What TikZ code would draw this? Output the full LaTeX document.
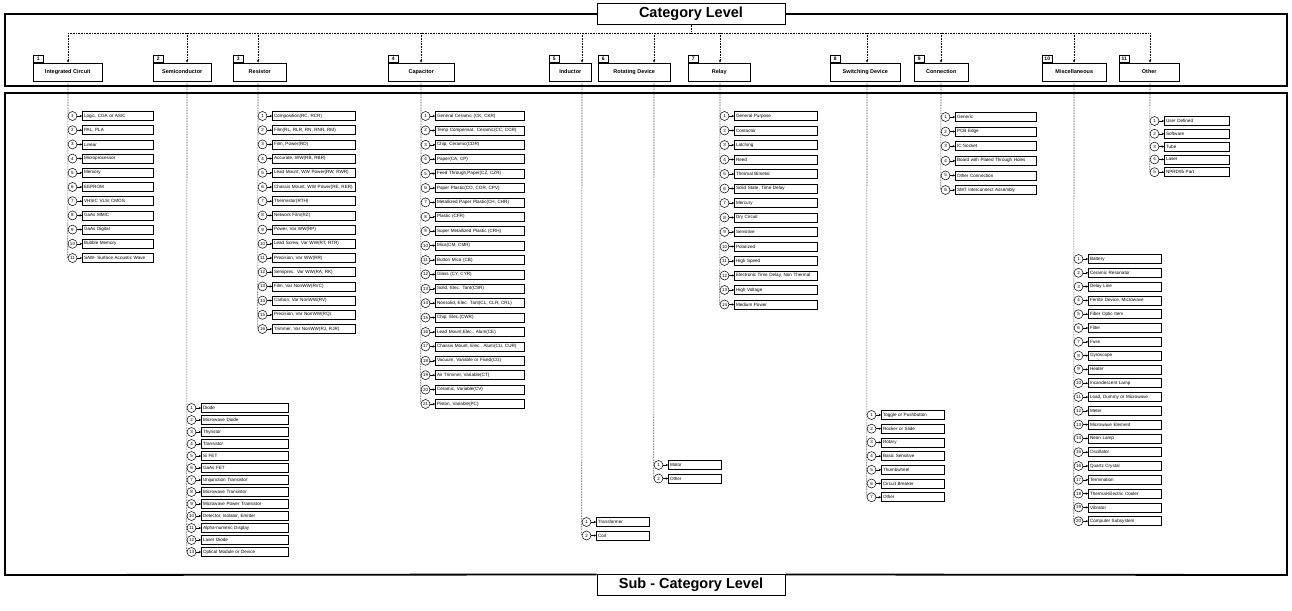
\documentclass[tikz,border=0pt]{standalone}
\usepackage{fontspec}
\setmainfont{Liberation Sans}
\usetikzlibrary{positioning,arrows.meta}

\tikzset{
  frame/.style={line width=1.8pt},
  lvlbox/.style={draw, line width=0.8pt, fill=white, minimum width=188pt, minimum height=19pt, font=\bfseries\fontsize{14.5}{16}\selectfont},
  catbox/.style={draw, line width=0.5pt, minimum height=18pt, inner sep=1pt, anchor=west, font=\bfseries\fontsize{5.5}{6}\selectfont},
  numtab/.style={draw, line width=0.5pt, minimum width=10pt, minimum height=7pt, inner sep=0.5pt, anchor=south west, font=\bfseries\fontsize{5}{5}\selectfont},
  bus/.style={densely dotted, line width=0.6pt},
  busarrow/.style={bus, -{Stealth[length=3pt,width=2.5pt]}},
  numcirc/.style={draw, circle, line width=0.5pt, minimum size=9pt, inner sep=0pt, font=\fontsize{4.5}{5}\selectfont},
  subbox/.style={draw, line width=0.5pt, minimum height=9pt, inner xsep=1.5pt, inner ysep=0.5pt, align=left, font=\fontsize{4.6}{5}\selectfont},
  itemarrow/.style={line width=0.5pt, -{Stealth[length=2.5pt,width=2.2pt]}},
}

% #1 name, #2 line x, #3 first y, #4 step, #5 box width, #6 items
\newcommand{\sublist}[6]{%
  \foreach \txt [count=\i] in {#6} {
    \node[numcirc] (#1n\i) at ({#2+4.5}, {#3+(\i-1)*#4}) {\i};
    \node[subbox, text width=#5pt, right=5pt of #1n\i] (#1b\i) {\txt};
    \draw[itemarrow] (#1n\i) -- (#1b\i);
  }%
}

\begin{document}
\begin{tikzpicture}[x=1pt, y=-1pt]
\useasboundingbox (0,0) rectangle (1292,610);

% level boxes and frames
\node[lvlbox] (catlvl) at (691,14) {Category Level};
\node[lvlbox] (sublvl) at (691,585) {Sub - Category Level};
\draw[frame] (catlvl.west) -- (5,14) -- (5,86) -- (1287,86) -- (1287,14) -- (catlvl.east);
\draw[frame] (sublvl.north west) -- (5,575) -- (5,93) -- (1287,93) -- (1287,575) -- (sublvl.north east);

% categories
\node[catbox, minimum width=69pt] (ic) at (33,72) {Integrated Circuit};
\node[catbox, minimum width=58pt] (semi) at (153,72) {Semiconductor};
\node[catbox, minimum width=53pt] (res) at (233,72) {Resistor};
\node[catbox, minimum width=66pt] (cap) at (388,72) {Capacitor};
\node[catbox, minimum width=42pt] (ind) at (549,72) {Inductor};
\node[catbox, minimum width=72pt] (rot) at (598,72) {Rotating Device};
\node[catbox, minimum width=62pt] (rly) at (688,72) {Relay};
\node[catbox, minimum width=70pt] (swi) at (830,72) {Switching Device};
\node[catbox, minimum width=54pt] (con) at (914,72) {Connection};
\node[catbox, minimum width=64pt] (misc) at (1042,72) {Miscellaneous};
\node[catbox, minimum width=60pt] (oth) at (1119,72) {Other};

\foreach \c/\n in {ic/1, semi/2, res/3, cap/4, ind/5, rot/6, rly/7, swi/8, con/9, misc/10, oth/11}
  \node[numtab] (\c tab) at (\c.north west) {\n};

\coordinate (xic) at (68,33);
\coordinate (xsemi) at (187,33);
\coordinate (xres) at (258,33);
\coordinate (xcap) at (421,33);
\coordinate (xind) at (582,33);
\coordinate (xrot) at (654,33);
\coordinate (xrly) at (720,33);
\coordinate (xswi) at (867,33);
\coordinate (xcon) at (941,33);
\coordinate (xmisc) at (1074,33);
\coordinate (xoth) at (1150,33);

\draw[bus] (catlvl.south) -- (catlvl.south |- xic);
\draw[bus] (xic) -- (xoth);
\foreach \c in {ic, semi, res, cap, ind, rot, rly, swi, con, misc, oth}
  \draw[busarrow] (x\c) -- (x\c |- \c.north);

% sub-categories
\sublist{ic}{68}{116}{14.2}{68}{{Logic, CGA or ASIC}, {PAL, PLA}, Linear, Microprocessor, Memory, EEPROM,
  VHSIC VLSI CMOS, GaAs MMIC, GaAs Digital, Bubble Memory, SAW- Surface Acoustic Wave}
\sublist{semi}{187}{408}{12}{84}{Diode, Microwave Diode, Thyristor, Transistor, Si FET, GaAs FET,
  Unijunction Transistor, Microwave Transistor, Microwave Power Transistor, {Detector, Isolator, Emitter},
  Alpha-numeric Display, Laser Diode, Optical Module or Device}
\sublist{res}{258}{116}{14.2}{80}{{Composition(RC, RCR)}, {Film(RL, RLR, RN, RNR, RM)}, {Film, Power(RD)},
  {Accurate, WW(RB, RBR)}, {Lead Mount, WW Power(RW, RWR)}, {Chassis Mount, WW Power(RE, RER)},
  Thermistor(RTH), Network Film(RZ), {Power, Var WW(RP)}, {Lead Screw, Var WW(RT, RTR)},
  {Precision, Var WW(RR)}, {Semiprec. Var WW(RA, RK)}, {Film, Var NonWW(RVC)}, {Carbon, Var NonWW(RV)},
  {Precision, Var NonWW(RQ)}, {Trimmer, Var NonWW(RJ, RJR)}}
\sublist{cap}{421}{116}{14.4}{86}{{General Ceramic (CK, CKR)}, {Temp Compensat. Ceramic(CC, CCR)},
  {Chip, Ceramic(CDR)}, {Paper(CA, CP)}, {Feed Through,Paper(CZ, CZR)}, {Paper Plastic(CO, COR, CPV)},
  {Metallized Paper Plastic(CH, CHR)}, Plastic (CFR), Super Metallized Plastic (CRH), {Mica(CM, CMR)},
  Button Mica (CB), {Glass (CY, CYR)}, {Solid, Elec. Tant(CSR)}, {Nonsolid, Elec. Tant(CL, CLR, CRL)},
  {Chip, Elec.(CWR)}, {Lead Mount,Elec., Alum(CE)}, {Chassis Mount, Elec., Alum(CU, CUR)},
  {Vacuum, Variable or Fixed(CG)}, {Air Trimmer, Variable(CT)}, {Ceramic, Variable(CV)}, {Piston, Variable(PC)}}
\sublist{ind}{582}{522}{13.5}{50}{Transformer, Coil}
\sublist{rot}{654}{465}{13.5}{50}{Motor, Other}
\sublist{rly}{720}{116}{14.5}{80}{General Purpose, Contactor, Latching, Reed, Thermal Bimetal,
  {Solid State, Time Delay}, Mercury, Dry Circuit, Sensitive, Polarized, High Speed,
  {Electronic Time Delay, Non Thermal}, High Voltage, Medium Power}
\sublist{swi}{867}{415}{13.7}{60}{Toggle or Pushbutton, Rocker or Slide, Rotary, Basic Sensitive,
  Thumbwheel, Circuit Breaker, Other}
\sublist{con}{941}{117}{14.6}{78}{Generic, PCB Edge, IC Socket, Board with Plated Through Holes,
  Other Connection, SMT Interconnect Assembly}
\sublist{misc}{1074}{259}{13.8}{70}{Battery, Ceramic Resonator, Delay Line, {Ferrite Device, Microwave},
  Fiber Optic Item, Filter, Fuse, Gyroscope, Heater, Incandescent Lamp, {Load, Dummy or Microwave},
  Meter, Microwave Element, Neon Lamp, Oscillator, Quartz Crystal, Termination,
  Thermal-Electric Cooler, Vibrator, Computer Subsystem}
\sublist{oth}{1150}{121}{12.8}{62}{User Defined, Software, Tube, Laser, NPRD95 Part}

% category to sub-category lines
\draw[bus] (xic |- ic.south) -- (icn11.west);
\draw[bus] (xsemi |- semi.south) -- (semin13.west);
\draw[bus] (xres |- res.south) -- (resn16.west);
\draw[bus] (xcap |- cap.south) -- (capn21.west);
\draw[bus] (xind |- ind.south) -- (indn2.west);
\draw[bus] (xrot |- rot.south) -- (rotn2.west);
\draw[bus] (xrly |- rly.south) -- (rlyn14.west);
\draw[bus] (xswi |- swi.south) -- (swin7.west);
\draw[bus] (xcon |- con.south) -- (conn6.west);
\draw[bus] (xmisc |- misc.south) -- (miscn20.west);
\draw[bus] (xoth |- oth.south) -- (othn5.west);
\end{tikzpicture}
\end{document}
